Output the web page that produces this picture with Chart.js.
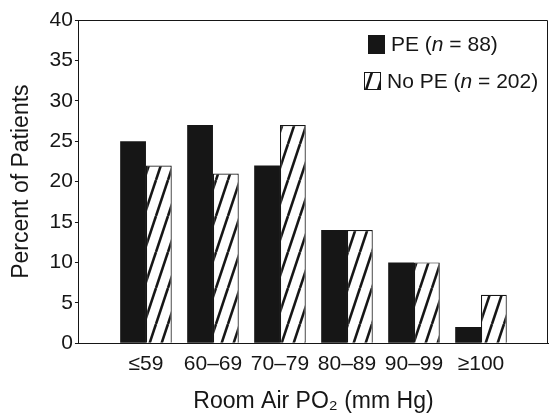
<!DOCTYPE html>
<html>
<head>
    <title>Room Air PO2</title>
    <script src="https://cdn.jsdelivr.net/npm/chart.js"></script>
    <style>
        html, body { margin: 0; padding: 0; background: #fff; }
        #wrap { width: 550px; height: 415px; }
    </style>
</head>
<body>
    <div id="wrap">
        <canvas id="myChart"></canvas>
    </div>

    <script>
        // data
        const categories = ['≤59', '60–69', '70–79', '80–89', '90–99', '≥100'];
        const peValues = [25, 27, 22, 14, 10, 2];
        const noPeValues = [22, 21, 27, 14, 10, 6];
        const yTicks = [0, 5, 10, 15, 20, 25, 30, 35, 40];

        const FONT = "'Liberation Sans', Arial, sans-serif";
        const INK = '#161616';

        // diagonal hatch for the "No PE" bars
        function makeHatch() {
            const c = document.createElement('canvas');
            c.width = 12; c.height = 36;
            const g = c.getContext('2d');
            g.fillStyle = '#fff';
            g.fillRect(0, 0, 12, 36);
            g.strokeStyle = INK;
            g.lineWidth = 2.6;
            for (let x0 = -12; x0 <= 12; x0 += 12) {
                g.beginPath();
                g.moveTo(x0, 36);
                g.lineTo(x0 + 12, 0);
                g.stroke();
            }
            return g.createPattern(c, 'repeat');
        }
        const hatch = makeHatch();

        // empty slot on each side so the groups sit like the original
        const labels = [''].concat(categories, ['']);
        const pad = arr => [null].concat(arr, [null]);

        // top/right frame + legend with italic n
        const framePlugin = {
            id: 'frame',
            afterDraw(chart) {
                const ctx = chart.ctx;
                const a = chart.chartArea;
                ctx.save();
                ctx.strokeStyle = INK;
                ctx.lineWidth = 1;
                ctx.beginPath();
                ctx.moveTo(a.left, a.top + 0.5);
                ctx.lineTo(a.right - 0.5, a.top + 0.5);
                ctx.lineTo(a.right - 0.5, a.bottom);
                ctx.stroke();

                const items = [
                    { label: 'PE', n: '88', fill: INK, box: [368, 35, 17, 19] },
                    { label: 'No PE', n: '202', fill: hatch, box: [364, 72, 17, 18] }
                ];
                items.forEach(it => {
                    const [bx, by, bw, bh] = it.box;
                    ctx.fillStyle = it.fill;
                    ctx.fillRect(bx, by, bw, bh);
                    if (it.fill !== INK) {
                        ctx.strokeStyle = INK;
                        ctx.lineWidth = 1;
                        ctx.strokeRect(bx + 0.5, by + 0.5, bw - 1, bh - 1);
                    }
                    const ty = by + bh / 2 + 1;
                    let x = bx + bw + 6;
                    ctx.fillStyle = INK;
                    ctx.textBaseline = 'middle';
                    const parts = [
                        [it.label + ' (', 'normal'],
                        ['n', 'italic'],
                        [' = ' + it.n + ')', 'normal']
                    ];
                    parts.forEach(([t, st]) => {
                        ctx.font = st + ' 21px ' + FONT;
                        ctx.fillText(t, x, ty);
                        x += ctx.measureText(t).width;
                    });
                });
                ctx.restore();
            }
        };

        const ctx = document.getElementById('myChart').getContext('2d');
        window.myChart = new Chart(ctx, {
            type: 'bar',
            data: {
                labels: labels,
                datasets: [{
                    label: 'PE (n = 88)',
                    data: pad(peValues),
                    backgroundColor: INK,
                    borderColor: INK,
                    borderWidth: 0
                }, {
                    label: 'No PE (n = 202)',
                    data: pad(noPeValues),
                    backgroundColor: hatch,
                    borderColor: INK,
                    borderWidth: 1.2
                }]
            },
            options: {
                responsive: true,
                maintainAspectRatio: false,
                animation: false,
                layout: { padding: { top: 20, right: 2, left: 8, bottom: 0 } },
                plugins: {
                    legend: { display: false },
                    tooltip: { enabled: false }
                },
                datasets: {
                    bar: { categoryPercentage: 0.77, barPercentage: 1.0 }
                },
                scales: {
                    x: {
                        offset: false,
                        grid: { display: false },
                        border: { display: true, color: INK, width: 1 },
                        ticks: {
                            color: INK,
                            padding: 0,
                            maxRotation: 0,
                            autoSkip: false,
                            font: { family: FONT, size: 21 }
                        },
                        title: {
                            display: true,
                            text: 'Room Air PO₂ (mm Hg)',
                            color: INK,
                            padding: { top: 11, bottom: 0 },
                            font: { family: FONT, size: 23 }
                        }
                    },
                    y: {
                        min: 0,
                        max: 40,
                        afterBuildTicks(scale) {
                            scale.ticks = yTicks.map(v => ({ value: v }));
                        },
                        grid: {
                            display: true,
                            drawOnChartArea: false,
                            drawTicks: true,
                            tickLength: 4,
                            color: INK
                        },
                        border: { display: true, color: INK, width: 1 },
                        ticks: {
                            color: INK,
                            padding: 2,
                            font: { family: FONT, size: 21 }
                        },
                        title: {
                            display: true,
                            text: 'Percent of Patients',
                            color: INK,
                            padding: { top: 0, bottom: 12 },
                            font: { family: FONT, size: 23 }
                        }
                    }
                }
            },
            plugins: [framePlugin]
        });
    </script>
</body>
</html>
